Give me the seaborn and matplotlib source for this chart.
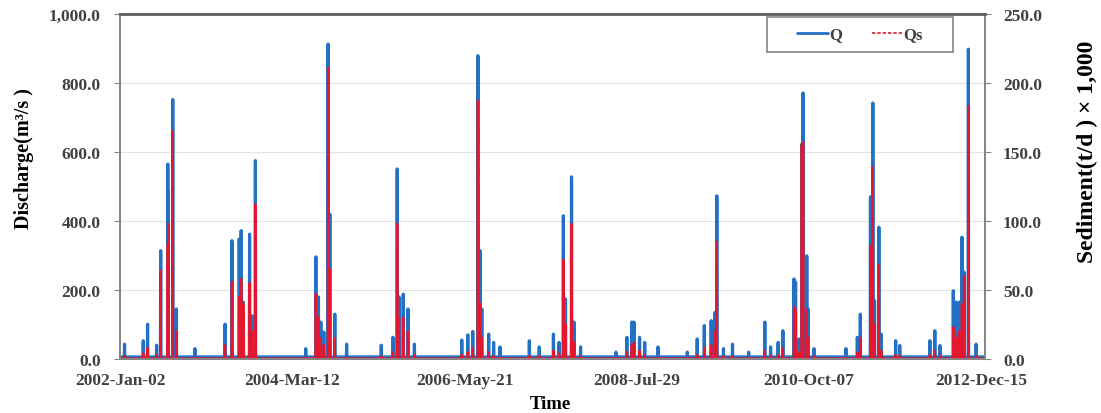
import matplotlib
matplotlib.use('Agg')
import matplotlib.pyplot as plt
from matplotlib.lines import Line2D
from matplotlib.patches import Rectangle
from matplotlib.ticker import FuncFormatter, MultipleLocator
import numpy as np
import pandas as pd
import seaborn as sns

# daily record, Q in m3/s, Qs in (t/d) x 1,000
start_date = '2002-01-02'
end_date = '2012-12-31'
base_q = 6.0
base_qs = 0.3

# flood events
event_dates = [
    '2002-01-21', '2002-04-18', '2002-05-08', '2002-06-19', '2002-07-08', '2002-08-10', '2002-08-12', '2002-09-02', '2002-09-19', '2002-12-14',
    '2003-05-03', '2003-06-04', '2003-07-08', '2003-07-17', '2003-07-27', '2003-08-25', '2003-09-05', '2003-09-21',
    '2004-05-12', '2004-06-28', '2004-07-10', '2004-07-21', '2004-08-04', '2004-08-24', '2004-09-01', '2004-09-24', '2004-11-18',
    '2005-04-28', '2005-06-21', '2005-07-11', '2005-07-19', '2005-08-08', '2005-08-30', '2005-09-29',
    '2006-05-07', '2006-06-04', '2006-06-27', '2006-07-21', '2006-07-31', '2006-08-08', '2006-09-09', '2006-10-02', '2006-11-01',
    '2007-03-17', '2007-05-02', '2007-07-07', '2007-08-02', '2007-08-22', '2007-09-01', '2007-09-29', '2007-10-11', '2007-11-10',
    '2008-04-22', '2008-06-12', '2008-07-05', '2008-07-15', '2008-08-10', '2008-09-03', '2008-11-04',
    '2009-03-20', '2009-05-05', '2009-06-07', '2009-07-09', '2009-07-27', '2009-08-04', '2009-09-04', '2009-10-16', '2009-12-30',
    '2010-03-15', '2010-04-11', '2010-05-16', '2010-06-07', '2010-07-29', '2010-08-05', '2010-08-21', '2010-09-03', '2010-09-09',
    '2010-09-26', '2010-10-02', '2010-10-30',
    '2011-03-27', '2011-05-19', '2011-06-02', '2011-07-19', '2011-07-30', '2011-08-07', '2011-08-27', '2011-09-07', '2011-11-13', '2011-12-02',
    '2012-04-20', '2012-05-13', '2012-06-06', '2012-08-07', '2012-08-20', '2012-09-04', '2012-09-16', '2012-09-26', '2012-10-16', '2012-11-21',
]
q_peaks = [
    43, 53, 101, 40, 314, 565, 484, 752, 145, 30,
    101, 343, 348, 372, 165, 362, 125, 575,
    30, 296, 180, 107, 78, 913, 420, 130, 43,
    40, 63, 551, 180, 188, 145, 43,
    55, 70, 80, 879, 314, 145, 72, 48, 35,
    53, 35, 72, 48, 415, 174, 528, 107, 35,
    20, 63, 107, 107, 63, 48, 35,
    20, 58, 97, 111, 135, 473, 30, 43, 20,
    107, 35, 48, 82, 232, 223, 58, 623, 771, 299, 145, 30,
    30, 63, 130, 470, 742, 169, 382, 72, 53, 39,
    53, 82, 39, 198, 165, 165, 353, 252, 898, 43,
]
qs_peaks = [
    2, 4, 8, 3, 64, 83, 98, 165, 20, 1,
    10, 56, 45, 58, 40, 55, 20, 112,
    1, 47, 30, 15, 10, 211, 65, 15, 1,
    2, 5, 98, 30, 30, 20, 3,
    3, 5, 8, 187, 40, 15, 5, 2, 1,
    2, 2, 6, 4, 72, 25, 98, 12, 2,
    1, 5, 10, 12, 6, 3, 1,
    1, 3, 8, 10, 20, 85, 2, 2, 1,
    6, 2, 3, 8, 38, 36, 5, 155, 157, 36, 15, 2,
    1, 5, 15, 82, 139, 25, 68, 6, 3, 2,
    3, 6, 2, 23, 15, 20, 40, 60, 183, 2,
]

tick_dates = ['2002-01-02', '2004-03-12', '2006-05-21', '2008-07-29', '2010-10-07', '2012-12-15']
tick_labels = ['2002-Jan-02', '2004-Mar-12', '2006-May-21', '2008-Jul-29', '2010-Oct-07', '2012-Dec-15']

days = pd.date_range(start_date, end_date, freq='D')
df = pd.DataFrame({'date': days, 'Q': base_q, 'Qs': base_qs})
df = df.set_index('date')
df.loc[pd.to_datetime(event_dates), 'Q'] = q_peaks
df.loc[pd.to_datetime(event_dates), 'Qs'] = qs_peaks
df = df.reset_index()

sns.set_style('white')
plt.rcParams['font.family'] = ['Liberation Serif', 'DejaVu Serif']

blue = '#2271c7'
red = '#e3172d'
grey = '#404040'
edge = '#858585'

fig = plt.figure(figsize=(11.01, 4.14), dpi=100)
ax = fig.add_axes([0.109, 0.1304, 0.7856, 0.8334])
ax2 = ax.twinx()

sns.lineplot(data=df, x='date', y='Q', ax=ax, color=blue, lw=2.3, errorbar=None)
sns.lineplot(data=df, x='date', y='Qs', ax=ax2, color=red, lw=1.7, errorbar=None)

ax.set_xlim(pd.Timestamp('2001-12-31'), pd.Timestamp('2013-01-01'))
ax.set_ylim(0, 1000)
ax2.set_ylim(0, 250)
ax.yaxis.set_major_locator(MultipleLocator(200))
ax2.yaxis.set_major_locator(MultipleLocator(50))
fmt = FuncFormatter(lambda v, p: f'{v:,.1f}')
ax.yaxis.set_major_formatter(fmt)
ax2.yaxis.set_major_formatter(fmt)
ax.set_xticks(pd.to_datetime(tick_dates))
ax.set_xticklabels(tick_labels)

ax.grid(axis='y', color='#e4e4e4', lw=0.8)
ax.grid(axis='x', visible=False)

for a in (ax, ax2):
    for s in a.spines.values():
        s.set_color(edge)
        s.set_linewidth(1.3)
ax2.spines['top'].set_color('#606060')
ax2.spines['top'].set_linewidth(2)

tick_font = dict(labelsize=12.5, labelcolor=grey)
ax.tick_params(axis='y', direction='out', length=4, color=edge, pad=10, **tick_font)
ax2.tick_params(axis='y', direction='out', length=4, color=edge, pad=9, **tick_font)
ax.tick_params(axis='x', length=0, pad=9, **tick_font)
for lab in ax.get_xticklabels() + ax.get_yticklabels() + ax2.get_yticklabels():
    lab.set_fontweight('bold')

ax.set_xlabel('Time', fontsize=13.5, fontweight='bold', color='black')
ax.xaxis.set_label_coords(0.497, -0.105)
ax.set_ylabel('Discharge(m³/s )', fontsize=14.5, fontweight='bold', color='black')
ax.yaxis.set_label_coords(-0.10, 0.583)
ax2.set_ylabel('Sediment(t/d ) × 1,000', fontsize=17, fontweight='bold', color='black')
ax2.yaxis.set_label_coords(1.106, 0.603)

# legend box drawn separately so the entries sit in its middle
ax2.add_patch(Rectangle((0.748, 0.890), 0.215, 0.101, transform=ax2.transAxes,
                        facecolor='white', edgecolor=edge, lw=1.2, zorder=5))
handles = [Line2D([], [], color=blue, lw=2),
           Line2D([], [], color=red, lw=1.2, ls=(0, (2, 1.2)))]
leg = ax2.legend(handles, ['Q', 'Qs'], loc='center', ncol=2,
                 bbox_to_anchor=(0.8555, 0.9405), frameon=False,
                 handlelength=1.85, handletextpad=0.05, borderpad=0.0, columnspacing=1.8,
                 prop={'family': 'Liberation Serif', 'weight': 'bold', 'size': 12})
leg.set_zorder(6)
for t in leg.get_texts():
    t.set_color(grey)

fig.savefig('out.png', dpi=100)
